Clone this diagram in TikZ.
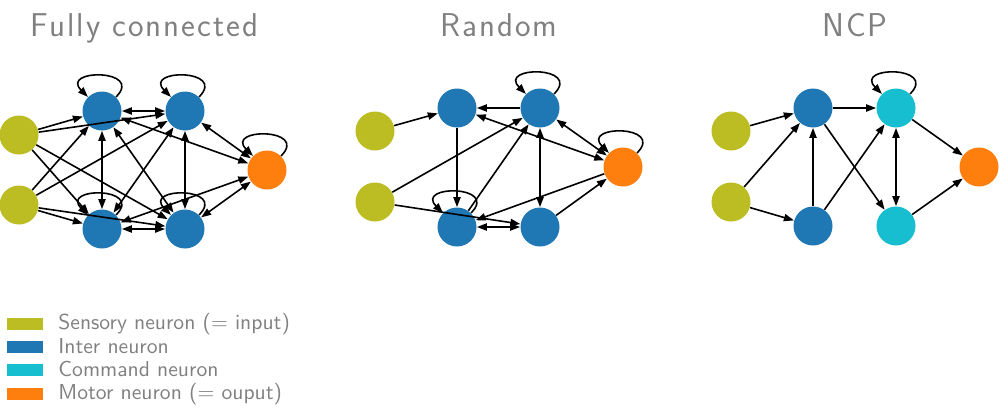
\documentclass[tikz,border=0pt]{standalone}
\usepackage{amsmath}
\usepackage{fontspec}
\usepackage{tikz}
\usetikzlibrary{arrows.meta}
\newfontfamily\titlefont{lmsans17-regular.otf}[LetterSpace=6]
\definecolor{sensory}{HTML}{BCBD22}
\definecolor{inter}{HTML}{1F77B4}
\definecolor{command}{HTML}{17BECF}
\definecolor{motor}{HTML}{FF7F0E}
\definecolor{textgray}{HTML}{808080}
\tikzset{>/.tip={Triangle[length=5pt,width=3.6pt]},
  neuron/.style={circle, draw=none, minimum size=19.5pt, inner sep=0pt},
  sens/.style={neuron, fill=sensory},
  intr/.style={neuron, fill=inter},
  cmd/.style={neuron, fill=command},
  mot/.style={neuron, fill=motor},
  syn/.style={->, line width=0.8pt},
  bisyn/.style={<->, line width=0.8pt},
  title/.style={text=textgray, font=\titlefont\fontsize{16.5}{20}\selectfont, anchor=base},
  legtext/.style={text=textgray, font=\sffamily\fontsize{10.8}{13}\selectfont, anchor=base west, inner sep=0pt},
  patch/.style={fill=#1, minimum width=18pt, minimum height=6pt, inner sep=0pt}}

\begin{document}
\begin{tikzpicture}[x=0.5pt, y=0.5pt]
\useasboundingbox (0,0) rectangle (999,-419);
% titles
\node[title] (t1) at (144.5,-36) {Fully connected};
\node[title] (t2) at (499,-36) {Random};
\node[title] (t3) at (855,-36) {NCP};
% fully connected
\node[sens] (fs1) at (19,-135) {};
\node[sens] (fs2) at (19,-205) {};
\node[intr] (fi1) at (102,-111) {};
\node[intr] (fi2) at (185,-111) {};
\node[intr] (fi3) at (102,-229) {};
\node[intr] (fi4) at (185,-229) {};
\node[mot] (fm) at (267,-170) {};
\foreach \s in {fs1,fs2}
{
  \foreach \i in {fi1,fi2,fi3,fi4}
  {
    \draw[syn] (\s) -- (\i);
  }
}
\foreach \a/\b in {fi1/fi2,fi3/fi4,fi1/fi3,fi2/fi4,fi1/fi4,fi2/fi3,fi1/fm,fi2/fm,fi3/fm,fi4/fm}
  \draw[bisyn] (\a) -- (\b);
\foreach \n in {fi1,fi2,fi3,fi4,fm}
  \draw[syn] (\n.45) .. controls +(45:40) and +(135:40) .. (\n.135);
% random
\node[sens] (rs1) at (375,-131) {};
\node[sens] (rs2) at (375,-202) {};
\node[intr] (ri1) at (457,-108) {};
\node[intr] (ri2) at (540,-108) {};
\node[intr] (ri3) at (457,-227) {};
\node[intr] (ri4) at (540,-227) {};
\node[mot] (rm) at (623,-167) {};
\foreach \a/\b in {rs1/ri1,rs2/ri2,rs2/ri4,ri2/ri1,ri1/ri3,ri3/ri2,rm/ri3,ri4/rm}
  \draw[syn] (\a) -- (\b);
\foreach \a/\b in {ri2/ri4,ri1/rm,ri2/rm,ri3/ri4}
  \draw[bisyn] (\a) -- (\b);
\foreach \n in {ri2,rm,ri3}
  \draw[syn] (\n.45) .. controls +(45:40) and +(135:40) .. (\n.135);
% ncp
\node[sens] (ns1) at (731,-131) {};
\node[sens] (ns2) at (731,-202) {};
\node[intr] (ni1) at (813,-108) {};
\node[intr] (ni2) at (813,-226) {};
\node[cmd] (nc1) at (896,-108) {};
\node[cmd] (nc2) at (896,-226) {};
\node[mot] (nm) at (979,-167) {};
\foreach \a/\b in {ns1/ni1,ns2/ni1,ns2/ni2,ni1/nc1,ni2/ni1,ni1/nc2,ni2/nc1,nc1/nm,nc2/nm}
  \draw[syn] (\a) -- (\b);
\draw[bisyn] (nc1) -- (nc2);
\draw[syn] (nc1.45) .. controls +(45:40) and +(135:40) .. (nc1.135);
% legend
\node[patch=sensory] (l1) at (25,-324) {};
\node[patch=inter] (l2) at (25,-347) {};
\node[patch=command] (l3) at (25,-370) {};
\node[patch=motor] (l4) at (25,-394) {};
\node[legtext] (l1t) at (58,-329) {Sensory neuron (= input)};
\node[legtext] (l2t) at (58,-353) {Inter neuron};
\node[legtext] (l3t) at (58,-376) {Command neuron};
\node[legtext] (l4t) at (58,-399) {Motor neuron (= ouput)};
\end{tikzpicture}
\end{document}
